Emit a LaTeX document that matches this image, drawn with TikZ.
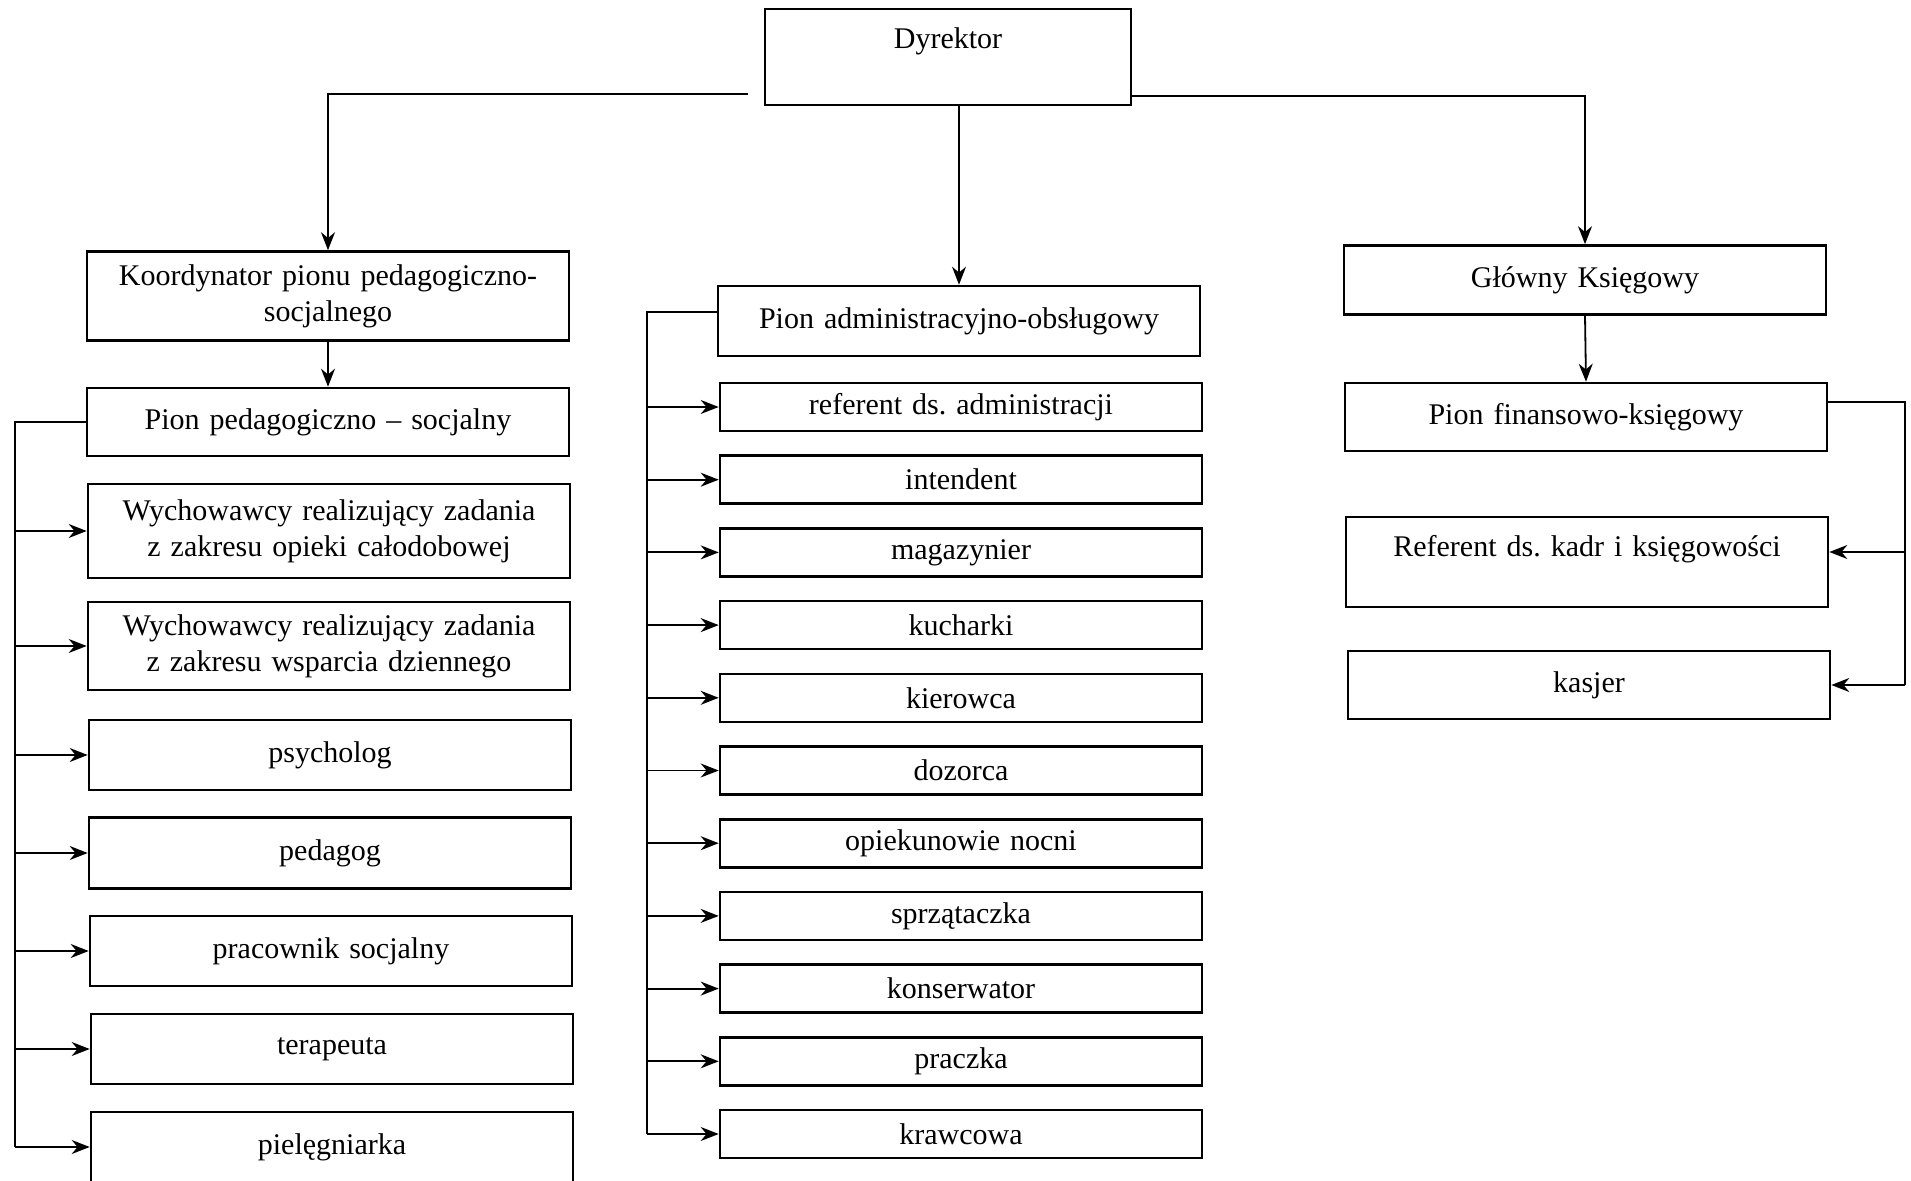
\documentclass[tikz,border=0pt]{standalone}
\usepackage{fontspec}
\setmainfont{Liberation Serif}
\usetikzlibrary{arrows.meta}
\frenchspacing

\begin{document}
\begin{tikzpicture}[x=0.5pt,y=-0.5pt,
    >={Stealth[length=9pt,width=7pt]},
    box/.style={draw, line width=1.3pt, rectangle, align=center, inner sep=0pt,
      font=\fontsize{15}{18}\selectfont, text width=232pt, minimum width=241pt},
    conn/.style={line width=0.9pt}]
    \useasboundingbox (0,0) rectangle (1911,1181);

    % top of the chart
    \node[box, text width=175pt, minimum width=183pt, text height=20pt, text depth=28pt] (dyr) at (948,57) {Dyrektor};

    % left column
    \node[box, minimum height=44.5pt] (koord) at (328,296) {Koordynator pionu pedagogiczno-\\socjalnego};
    \node[box, minimum height=34pt] (pped) at (328,422) {Pion pedagogiczno -- socjalny};
    \coordinate (lbus) at (15,422);
    \foreach \n/\x/\y/\h/\t in {%
        wcal/329/531/47/Wychowawcy realizujący zadania\\z zakresu opieki całodobowej,
        wdzi/329/646/44/Wychowawcy realizujący zadania\\z zakresu wsparcia dziennego,
        psy/330/755/35/psycholog,
        ped/330/853/35.5/pedagog,
        prs/331/951/35/pracownik socjalny,
        ter/332/1049/35/terapeuta,
        pie/332/1147/35/pielęgniarka} {
      \node[box, minimum height=\h pt] (\n) at (\x,\y) {\t};
      \draw[conn,->] (lbus |- \n.west) -- (\n.west);
    }
    \draw[conn] (pped.west) -- (lbus) -- (lbus |- pie.west);

    % middle column
    \node[box, minimum height=35pt] (padm) at (959,321) {Pion administracyjno-obsługowy};
    \coordinate (mbus) at (647,312);
    \foreach \n/\t [count=\i] in {%
        rad/referent ds. administracji,
        int/intendent,
        mag/magazynier,
        kuc/kucharki,
        kie/kierowca,
        doz/dozorca,
        opi/opiekunowie nocni,
        spr/sprzątaczka,
        kon/konserwator,
        pra/praczka,
        kra/krawcowa} {
      \node[box, minimum height=24pt] (\n) at (961,{407+72.7*(\i-1)}) {\t};
      \draw[conn,->] (mbus |- \n.west) -- (\n.west);
    }
    \draw[conn] (mbus -| padm.west) -- (mbus) -- (mbus |- kra.west);

    % right column
    \node[box, minimum height=34.5pt] (gk) at (1585,280) {Główny Księgowy};
    \node[box, minimum height=34pt] (pfin) at (1586,417) {Pion finansowo-księgowy};
    \node[box, text height=20pt, text depth=25pt] (rkk) at (1587,562) {Referent ds. kadr i księgowości};
    \node[box, minimum height=34pt] (kas) at (1589,685) {kasjer};
    \coordinate (rbus) at (1905,402);
    \draw[conn] (rbus -| pfin.east) -- (rbus) -- (rbus |- kas.east);
    \draw[conn,->] (rbus |- 0,552) -- (rkk.east |- 0,552);
    \draw[conn,->] (rbus |- kas.east) -- (kas.east);

    % links from the top
    \coordinate (dl) at (748,94);
    \draw[conn,->] (dl) -| (koord.north);
    \draw[conn,->] ([yshift=5pt]dyr.south east) -| (gk.north);
    \draw[conn,->] (dyr.south -| padm.north) -- (padm.north);
    \draw[conn,->] (koord.south) -- (pped.north);
    \draw[conn,->] (gk.south) -- (pfin.north);
\end{tikzpicture}
\end{document}
